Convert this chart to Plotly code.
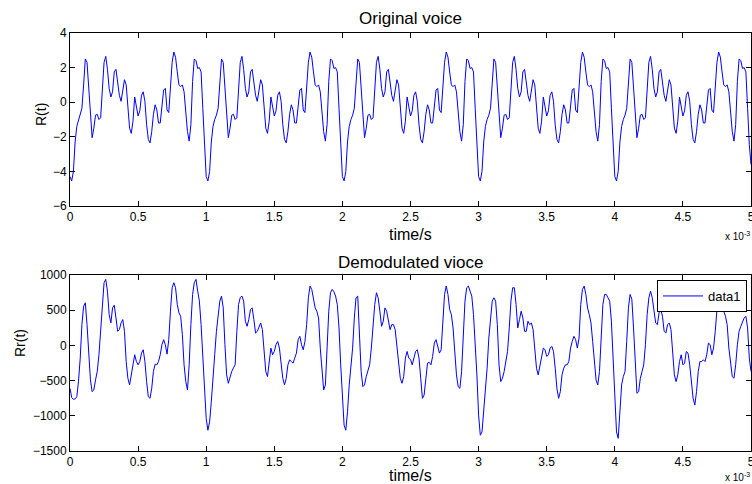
import numpy as np
import plotly.graph_objects as go

# ---------------- data ----------------
# sampling: one value every 0.0125 ms, 0 .. 5 ms  (401 samples)
dt = 1.25e-5
n_samples = 401
time_s = np.arange(n_samples) * dt

# Original voice R(t)
voice = [
    -4.3, -4.55, -4.0, -2.3, -1.4, -1.0, -0.75, -0.35, 1.0, 2.5, 2.3, 0.6, -1.1, -2.05, -1.5, -0.75, -0.7, -1.0, -0.9, 0.6,
    2.3, 2.65, 1.9, 0.8, 0.3, 0.6, 1.75, 1.9, 1.2, 0.4, 0.05, 0.6, 1.3, 1.0, -0.35, -1.5, -1.8, -1.1, 0.3, -0.15,
    -0.8, -0.5, 0.4, 0.6, 0.05, -1.3, -2.15, -2.35, -1.7, -0.7, -0.15, -0.45, -1.2, -1.2, -0.35, 0.7, 0.8, -0.45, -0.6, 0.6,
    2.3, 2.9, 2.6, 1.75, 1.0, 0.9, 1.0, 0.6, -0.5, -1.7, -2.25, -1.3, 1.2, 2.5, 2.4, 1.95, 2.0, 1.75, -0.35, -2.45,
    -4.3, -4.55, -4.0, -2.3, -1.4, -1.0, -0.75, -0.35, 1.0, 2.5, 2.3, 0.6, -1.1, -2.05, -1.5, -0.75, -0.7, -1.0, -0.9, 0.6,
    2.3, 2.65, 1.9, 0.8, 0.3, 0.6, 1.75, 1.9, 1.2, 0.4, 0.05, 0.6, 1.3, 1.0, -0.35, -1.5, -1.8, -1.1, 0.3, -0.15,
    -0.8, -0.5, 0.4, 0.6, 0.05, -1.3, -2.15, -2.35, -1.7, -0.7, -0.15, -0.45, -1.2, -1.2, -0.35, 0.7, 0.8, -0.45, -0.6, 0.6,
    2.3, 2.9, 2.6, 1.75, 1.0, 0.9, 1.0, 0.6, -0.5, -1.7, -2.25, -1.3, 1.2, 2.5, 2.4, 1.95, 2.0, 1.75, -0.35, -2.45,
    -4.3, -4.55, -4.0, -2.3, -1.4, -1.0, -0.75, -0.35, 1.0, 2.5, 2.3, 0.6, -1.1, -2.05, -1.5, -0.75, -0.7, -1.0, -0.9, 0.6,
    2.3, 2.65, 1.9, 0.8, 0.3, 0.6, 1.75, 1.9, 1.2, 0.4, 0.05, 0.6, 1.3, 1.0, -0.35, -1.5, -1.8, -1.1, 0.3, -0.15,
    -0.8, -0.5, 0.4, 0.6, 0.05, -1.3, -2.15, -2.35, -1.7, -0.7, -0.15, -0.45, -1.2, -1.2, -0.35, 0.7, 0.8, -0.45, -0.6, 0.6,
    2.3, 2.9, 2.6, 1.75, 1.0, 0.9, 1.0, 0.6, -0.5, -1.7, -2.25, -1.3, 1.2, 2.5, 2.4, 1.95, 2.0, 1.75, -0.35, -2.45,
    -4.3, -4.55, -4.0, -2.3, -1.4, -1.0, -0.75, -0.35, 1.0, 2.5, 2.3, 0.6, -1.1, -2.05, -1.5, -0.75, -0.7, -1.0, -0.9, 0.6,
    2.3, 2.65, 1.9, 0.8, 0.3, 0.6, 1.75, 1.9, 1.2, 0.4, 0.05, 0.6, 1.3, 1.0, -0.35, -1.5, -1.8, -1.1, 0.3, -0.15,
    -0.8, -0.5, 0.4, 0.6, 0.05, -1.3, -2.15, -2.35, -1.7, -0.7, -0.15, -0.45, -1.2, -1.2, -0.35, 0.7, 0.8, -0.45, -0.6, 0.6,
    2.3, 2.9, 2.6, 1.75, 1.0, 0.9, 1.0, 0.6, -0.5, -1.7, -2.25, -1.3, 1.2, 2.5, 2.4, 1.95, 2.0, 1.75, -0.35, -2.45,
    -4.3, -4.55, -4.0, -2.3, -1.4, -1.0, -0.75, -0.35, 1.0, 2.5, 2.3, 0.6, -1.1, -2.05, -1.5, -0.75, -0.7, -1.0, -0.9, 0.6,
    2.3, 2.65, 1.9, 0.8, 0.3, 0.6, 1.75, 1.9, 1.2, 0.4, 0.05, 0.6, 1.3, 1.0, -0.35, -1.5, -1.8, -1.1, 0.3, -0.15,
    -0.8, -0.5, 0.4, 0.6, 0.05, -1.3, -2.15, -2.35, -1.7, -0.7, -0.15, -0.45, -1.2, -1.2, -0.35, 0.7, 0.8, -0.45, -0.6, 0.6,
    2.3, 2.9, 2.6, 1.75, 1.0, 0.9, 1.0, 0.6, -0.5, -1.7, -2.25, -1.3, 1.2, 2.5, 2.4, 1.95, 2.0, 1.75, -0.35, -2.45,
    -3.6,
]

# Demodulated voice Rr(t)
demod = [
    # 0 .. 1.16 ms
    -610, -740, -767, -760, -730, -510, -180, 295, 557, 605,
    295, -180, -490, -657, -633, -490, -370, -133, 200, 676,
    890, 938, 770, 438,
    320, 533, 571, 390, 200, 224, 320, 367, 200, -229,
    -467, -562, -419, -252, -133, -229, -276, -229, -110, -62,
    -229, -514, -729, -752, -610, -371, -267, -276, -229, -133,
    10, 81, 10, -124, 81, 486, 819, 890, 819, 581,
    462, 414, 152, -276, -514, -633,
    -276, 295, 724, 890, 938, 771, 629, 295, -181, -657,
    -1038, -1205, -1086, -800, -514, -133, 200, 438, 629, 700,
    533, 10, -419, -538,
    # 1.175 .. 2.49 ms
    -443, -370, -320, -276, 200, 581, 680, 700, 629, 343, 271, 367, 510, 533, 367, 176, 200, 271, 319, 224,
    -86, -371, -443, -276,
    -38, -133, -86, 10, 57, -38, -276, -467, -562, -467, -276, -205, -229, -252, -181, -110, 81, 129, 10, -62,
    57, 295, 676, 843, 795, 629, 533, 486, 390, -38, -419, -633, -562, -38, 486, 748, 795, 762, 700, 581,
    248, -276, -800, -1133, -1205, -943,
    -562, -276, -38, 390, 676, 700, 200, -371, -586, -562, -443, -371, -276, -38, 295, 581, 748, 676, 486, 271,
    343, 533, 486, 367, 224, 295, 295, 224, 10, -276, -467, -538, -443, -181, -86, -181,
    # 2.5 .. 3.74 ms
    -200, -276, -180, -86, -62, -181, -467, -752, -705, -419,
    -252, -240, -276, -157, 33, 81, -14, -110, -62, 295, 724, 843, 724, 510, 438, 248, -133, -419, -586, -610,
    -371, 248, 629, 819, 843, 771, 700, 438, 57, -419, -990, -1276, -1229, -943, -657, -324, 105, 438, 629, 676,
    629, 295, -276, -514, -467, -371,
    -229, -86, 248, 629, 819, 819, 581, 248, 367, 486, 390, 200, 200, 343, 295, 319, 224, -38, -324, -419,
    -276, -157, -38, -62, -157, -133, -38, -14, -86, -324, -610, -752, -657, -419, -324, -276, -276, -229, -38, 57,
    129, 81, -38, 105,
    # 3.75 .. 5 ms
    581, 795, 843, 724, 533, 438, 319, 57, -276, -490, -562, -371,
    105, 581, 724, 724, 676, 629, 343, -229, -848, -1229, -1320, -895, -562, -443, -371, 57, 533, 724,
    657, 248, -276, -681, -657, -467, -371, -276, 10, 438, 676, 771, 676, 486, 319, 295, 462, 510, 414, 200,
    176, 295, 319, 224, -86, -419, -514, -419, -229,
    -133, -276, -252, -86, -110, -276, -514, -752, -848, -657, -371, -229, -229, -205, -229, -133, 33, 10, -133, -38,
    200, 486, 820, 867, 629, 486, 414, 295, -38, -276, -443, -467, -276, 10, 200, 271, 343, 390, 414, 248,
    -181, -371,
]

x_tickvals = [0, 0.0005, 0.001, 0.0015, 0.002, 0.0025, 0.003, 0.0035, 0.004, 0.0045, 0.005]
x_ticktext = ["0", "0.5", "1", "1.5", "2", "2.5", "3", "3.5", "4", "4.5", "5"]
top_yticks = [-6, -4, -2, 0, 2, 4]
bottom_yticks = [-1500, -1000, -500, 0, 500, 1000]

top_title = "Original voice"
bottom_title = "Demodulated vioce"
x_label = "time/s"
top_ylabel = "R(t)"
bottom_ylabel = "Rr(t)"
series_name = "data1"

# ---------------- figure ----------------
FONT = "Liberation Sans, Arial, sans-serif"
W, H = 752, 484
ML, MR, MT, MB = 70, 1, 33, 33
PW, PH = W - ML - MR, H - MT - MB


def py(ypx):  # pixel row -> paper y
    return (H - MB - ypx) / PH


def px(xpx):  # pixel column -> paper x
    return (xpx - ML) / PW


fig = go.Figure()
fig.add_trace(go.Scatter(x=time_s, y=voice, mode="lines", line=dict(color="#0000ff", width=1),
                         xaxis="x", yaxis="y", showlegend=False, name="voice"))
fig.add_trace(go.Scatter(x=time_s, y=demod, mode="lines", line=dict(color="#0000ff", width=1),
                         xaxis="x2", yaxis="y2", showlegend=True, name=series_name))

axis_common = dict(showline=True, linecolor="black", linewidth=1, mirror="ticks", ticks="inside",
                   ticklen=5, tickcolor="black", showgrid=False, zeroline=False,
                   ticklabeloverflow="allow", automargin=False,
                   tickfont=dict(family=FONT, size=12, color="black"))

fig.update_layout(
    width=W, height=H,
    margin=dict(l=ML, r=MR, t=MT, b=MB, autoexpand=False),
    paper_bgcolor="white", plot_bgcolor="white",
    font=dict(family=FONT, color="black"),
    xaxis=dict(domain=[0, 1], anchor="y", range=[0, 0.005], tickvals=x_tickvals, ticktext=x_ticktext, **axis_common),
    yaxis=dict(domain=[py(206), 1], anchor="x", range=[-6, 4], tickvals=top_yticks, **axis_common),
    xaxis2=dict(domain=[0, 1], anchor="y2", range=[0, 0.005], tickvals=x_tickvals, ticktext=x_ticktext, **axis_common),
    yaxis2=dict(domain=[0, py(275)], anchor="x2", range=[-1500, 1000], tickvals=bottom_yticks, **axis_common),
    legend=dict(x=px(747), xanchor="right", y=py(280), yanchor="top", bgcolor="white",
                bordercolor="black", borderwidth=1, font=dict(family=FONT, size=13, color="black"),
                itemwidth=40, tracegroupgap=0),
    annotations=[
        dict(text=top_title, x=0.5, y=py(18), xref="paper", yref="paper", showarrow=False,
             font=dict(family=FONT, size=17), yanchor="middle"),
        dict(text=bottom_title, x=0.5, y=py(262), xref="paper", yref="paper", showarrow=False,
             font=dict(family=FONT, size=17), yanchor="middle"),
        dict(text=x_label, x=0.5, y=py(234), xref="paper", yref="paper", showarrow=False,
             font=dict(family=FONT, size=16), yanchor="middle"),
        dict(text=x_label, x=0.5, y=py(476), xref="paper", yref="paper", showarrow=False,
             font=dict(family=FONT, size=16), yanchor="middle"),
        dict(text="x 10<sup>-3</sup>", x=px(752), y=py(236), xref="paper", yref="paper", showarrow=False,
             font=dict(family=FONT, size=10), xanchor="right", yanchor="middle"),
        dict(text="x 10<sup>-3</sup>", x=px(752), y=py(477), xref="paper", yref="paper", showarrow=False,
             font=dict(family=FONT, size=10), xanchor="right", yanchor="middle"),
        dict(text=top_ylabel, x=px(41), y=py(115), xref="paper", yref="paper", showarrow=False,
             font=dict(family=FONT, size=14), textangle=-90, xanchor="center", yanchor="middle"),
        dict(text=bottom_ylabel, x=px(20), y=py(343), xref="paper", yref="paper", showarrow=False,
             font=dict(family=FONT, size=14), textangle=-90, xanchor="center", yanchor="middle"),
    ],
)

fig.write_html("out.html", config={"displayModeBar": False},
               post_script="document.body.style.margin='0';document.body.style.overflow='hidden';")
